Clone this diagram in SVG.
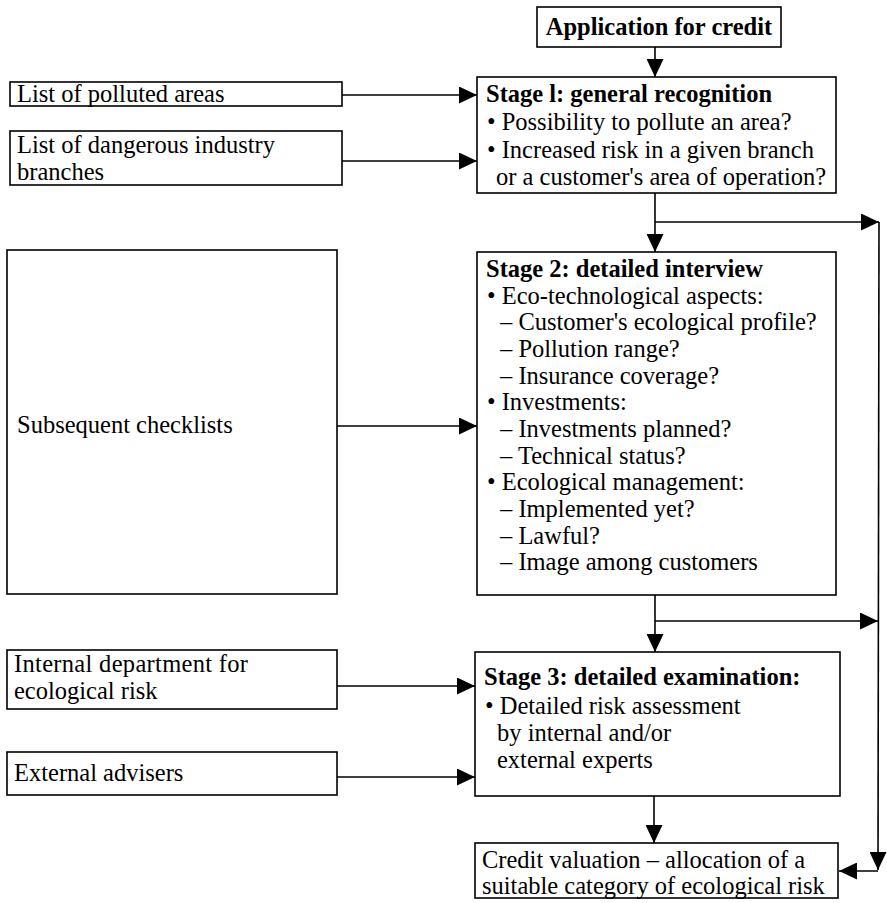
<svg xmlns="http://www.w3.org/2000/svg" width="887" height="903" viewBox="0 0 887 903">
<style>
.box{fill:#fff;stroke:#000;stroke-width:1.6}
.t{font-family:"Liberation Serif","Times New Roman",serif;font-size:24.5px;fill:#000}
.b{font-weight:bold}
.c{fill:none;stroke:#000;stroke-width:1.6}
</style>
<defs>
<marker id="ah" viewBox="0 0 18 17" refX="18" refY="8.5" markerWidth="18" markerHeight="17" markerUnits="userSpaceOnUse" orient="auto">
<path d="M0,0 L18,8.5 L0,17 Z" fill="#000"/>
</marker>
</defs>
<g id="connectors">
<line class="c" x1="655" y1="47" x2="655" y2="77" marker-end="url(#ah)"/>
<line class="c" x1="342" y1="95" x2="477" y2="95" marker-end="url(#ah)"/>
<line class="c" x1="342" y1="161" x2="477" y2="161" marker-end="url(#ah)"/>
<line class="c" x1="655" y1="193" x2="655" y2="252" marker-end="url(#ah)"/>
<line class="c" x1="655" y1="222" x2="879" y2="222" marker-end="url(#ah)"/>
<line class="c" x1="879" y1="222" x2="878" y2="870" marker-end="url(#ah)"/>
<line class="c" x1="337" y1="426" x2="477" y2="426" marker-end="url(#ah)"/>
<line class="c" x1="655" y1="595" x2="655" y2="652" marker-end="url(#ah)"/>
<line class="c" x1="655" y1="621" x2="878" y2="621" marker-end="url(#ah)"/>
<line class="c" x1="337" y1="686" x2="475" y2="686" marker-end="url(#ah)"/>
<line class="c" x1="337" y1="777" x2="475" y2="777" marker-end="url(#ah)"/>
<line class="c" x1="654" y1="796" x2="654" y2="843" marker-end="url(#ah)"/>
<line class="c" x1="878" y1="871" x2="839" y2="871" marker-end="url(#ah)"/>
</g>
<g id="app">
<rect class="box" x="537" y="7" width="244" height="40"/>
<text class="t b" x="659" y="35" text-anchor="middle">Application for credit</text>
</g>
<g id="stage1">
<rect class="box" x="477" y="77" width="359" height="116"/>
<text class="t b" x="486" y="102">Stage l: general recognition</text>
<text class="t" x="487" y="130">• Possibility to pollute an area?</text>
<text class="t" x="487" y="158">• Increased risk in a given branch</text>
<text class="t" x="496" y="185">or a customer's area of operation?</text>
</g>
<g id="polluted">
<rect class="box" x="10" y="82" width="332" height="24"/>
<text class="t" x="17" y="102">List of polluted areas</text>
</g>
<g id="dangerous">
<rect class="box" x="10" y="131" width="332" height="54"/>
<text class="t" x="17" y="153">List of dangerous industry</text>
<text class="t" x="17" y="180">branches</text>
</g>
<g id="stage2">
<rect class="box" x="477" y="252" width="359" height="343"/>
<text class="t b" x="486" y="277">Stage 2: detailed interview</text>
<text class="t" x="487" y="304">• Eco-technological aspects:</text>
<text class="t" x="500" y="330">– Customer's ecological profile?</text>
<text class="t" x="500" y="357">– Pollution range?</text>
<text class="t" x="500" y="384">– Insurance coverage?</text>
<text class="t" x="487" y="410">• Investments:</text>
<text class="t" x="500" y="437">– Investments planned?</text>
<text class="t" x="500" y="464">– Technical status?</text>
<text class="t" x="487" y="490">• Ecological management:</text>
<text class="t" x="500" y="517">– Implemented yet?</text>
<text class="t" x="500" y="544">– Lawful?</text>
<text class="t" x="500" y="570">– Image among customers</text>
</g>
<g id="checklists">
<rect class="box" x="7" y="250" width="330" height="344"/>
<text class="t" x="17" y="433">Subsequent checklists</text>
</g>
<g id="internal">
<rect class="box" x="7" y="650" width="330" height="59"/>
<text class="t" x="14" y="672" textLength="234">Internal department for</text>
<text class="t" x="14" y="699">ecological risk</text>
</g>
<g id="external">
<rect class="box" x="7" y="752" width="330" height="43"/>
<text class="t" x="14" y="781">External advisers</text>
</g>
<g id="stage3">
<rect class="box" x="475" y="652" width="365" height="144"/>
<text class="t b" x="484" y="685">Stage 3: detailed examination:</text>
<text class="t" x="485" y="714">• Detailed risk assessment</text>
<text class="t" x="497" y="741">by internal and/or</text>
<text class="t" x="497" y="768">external experts</text>
</g>
<g id="credit">
<rect class="box" x="475" y="843" width="363" height="55"/>
<text class="t" x="482" y="868">Credit valuation – allocation of a</text>
<text class="t" x="482" y="894">suitable category of ecological risk</text>
</g>
</svg>
